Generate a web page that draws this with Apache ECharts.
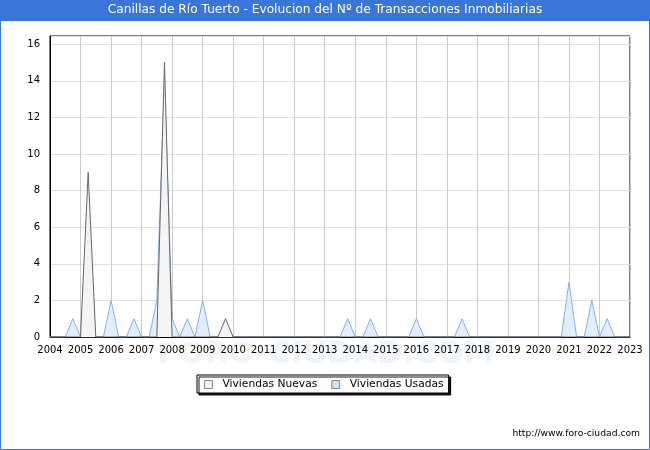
<!DOCTYPE html>
<html>
<head>
<meta charset="utf-8">
<script src="https://cdn.jsdelivr.net/npm/echarts@6/dist/echarts.min.js"></script>
<style>html,body{margin:0;padding:0;background:#fff}#c{width:650px;height:450px}</style>
</head>
<body>
<div id="c"></div>
<script>
// Years shown on the axis
var years = [2004,2005,2006,2007,2008,2009,2010,2011,2012,2013,2014,2015,2016,2017,2018,2019,2020,2021,2022];
// Quarterly values (Q1..Q4) per year
var nuevas = [
  [0,0,0,0],[0,9,0,0],[0,0,0,0],[0,0,0,15],[0,0,0,0],[0,0,0,1],
  [0,0,0,0],[0,0,0,0],[0,0,0,0],[0,0,0,0],[0,0,0,0],[0,0,0,0],
  [0,0,0,0],[0,0,0,0],[0,0,0,0],[0,0,0,0],[0,0,0,0],[0,0,0,0],[0,0,0,0]
];
var usadas = [
  [0,0,0,1],[0,0,0,0],[2,0,0,1],[0,0,2,14],[1,0,1,0],[2,0,0,0],
  [0,0,0,0],[0,0,0,0],[0,0,0,0],[0,0,0,1],[0,0,1,0],[0,0,0,0],
  [1,0,0,0],[0,0,1,0],[0,0,0,0],[0,0,0,0],[0,0,0,0],[3,0,0,2],[0,1,0,0]
];
var yTicks = [0,2,4,6,8,10,12,14,16];
var titleText = 'Canillas de Río Tuerto - Evolucion del Nº de Transacciones Inmobiliarias';

function toPairs(arr){
  var out = [];
  for (var i=0;i<years.length;i++){
    for (var q=0;q<4;q++){ out.push([years[i] + q*0.25, arr[i][q]]); }
  }
  out.push([years[years.length-1]+1, 0]);
  return out;
}

var chart = echarts.init(document.getElementById('c'), null, {renderer:'canvas'});
var FONT = 'DejaVu Sans';
chart.setOption({
  animation:false,
  backgroundColor:'#fff',
  textStyle:{fontFamily:FONT},
  graphic:[
    {type:'text', z:-10, left:157, top:339, style:{text:'FORO-', fill:'#f4f4f4', font:'bold 31px '+FONT}},
    {type:'text', z:-10, left:268, top:339, style:{text:'CIUDAD.COM', fill:'#eef3fc', font:'bold 31px '+FONT}},
    {type:'rect', z:100, shape:{x:0,y:0,width:650,height:21}, style:{fill:'#3a76d8'}},
    {type:'text', z:101, left:'center', top:4, style:{text:titleText, fill:'#fff', font:'12.2px '+FONT}},
    {type:'rect', z:100, shape:{x:0.5,y:0.5,width:649,height:449}, style:{fill:'none', stroke:'#3a76d8', lineWidth:1}},
    {type:'text', z:101, right:10, top:429, style:{text:'http://www.foro-ciudad.com', fill:'#000', font:'9.2px '+FONT}}
  ],
  legend:{
    left:197, top:375,
    padding:[4,5,3,7],
    itemGap:14,
    itemWidth:8, itemHeight:8,
    backgroundColor:'#fff',
    borderColor:'#000', borderWidth:1,
    shadowColor:'rgba(0,0,0,0.9)', shadowOffsetX:2, shadowOffsetY:2, shadowBlur:0.5,
    textStyle:{fontFamily:FONT, fontSize:10.7, color:'#000', padding:[0,0,0,5]},
    data:[
      {name:'Viviendas Nuevas', icon:'rect', itemStyle:{color:'#f0f0f0', borderColor:'#888', borderWidth:1}},
      {name:'Viviendas Usadas', icon:'rect', itemStyle:{color:'#cce3fa', borderColor:'#888', borderWidth:1}}
    ]
  },
  grid:{left:50, right:20, top:36, bottom:113, show:true, borderColor:'#000', borderWidth:1, backgroundColor:'#fff'},
  xAxis:{
    type:'value', min:2004, max:2023, interval:1,
    axisLine:{show:true, onZero:false, lineStyle:{color:'#000'}},
    axisTick:{show:false},
    axisLabel:{color:'#000', fontSize:10, margin:8, fontFamily:FONT, formatter:function(v){return String(v);}},
    splitLine:{show:true, lineStyle:{color:'#cccccc'}}
  },
  yAxis:{
    type:'value', min:0, max:16.45, interval:2,
    axisLine:{show:true, lineStyle:{color:'#000'}},
    axisTick:{show:false},
    axisLabel:{color:'#000', fontSize:10, margin:10, fontFamily:FONT, showMaxLabel:false,
      formatter:function(v){ return yTicks.indexOf(v)>=0 ? String(v) : ''; }},
    splitLine:{show:true, lineStyle:{color:'#e0e0e0'}}
  },
  series:[
    {name:'Viviendas Nuevas', type:'line', z:4, data:toPairs(nuevas), symbol:'none',
      lineStyle:{color:'#666666', width:1}, itemStyle:{color:'#f0f0f0'},
      areaStyle:{color:'#f4f4f4', opacity:1}},
    {name:'Viviendas Usadas', type:'line', z:3, data:toPairs(usadas), symbol:'none',
      lineStyle:{color:'#8aaee8', width:1}, itemStyle:{color:'#cce3fa'},
      areaStyle:{color:'#e1effd', opacity:1}}
  ]
});
</script>
</body>
</html>
